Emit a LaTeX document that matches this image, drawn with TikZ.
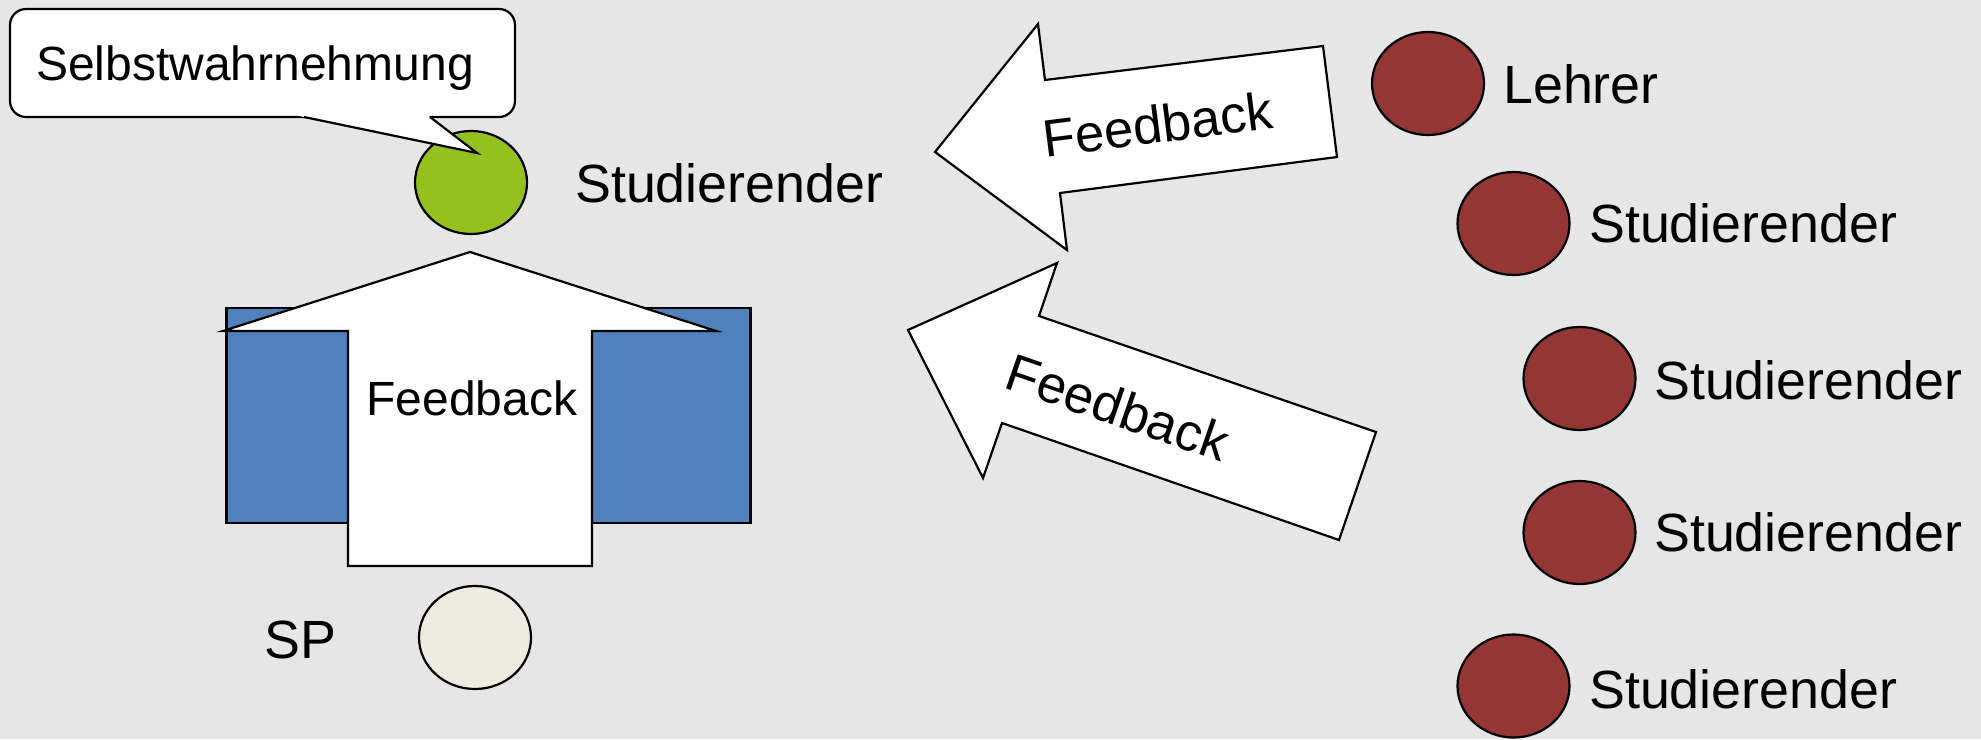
\documentclass[tikz,border=0pt]{standalone}
\usepackage{fontspec}
\setmainfont{Liberation Sans}
\usetikzlibrary{shapes.geometric}

\definecolor{bggrey}{RGB}{230,230,230}
\definecolor{studgreen}{RGB}{149,193,31}
\definecolor{peerred}{RGB}{148,54,52}
\definecolor{tableblue}{RGB}{79,129,189}
\definecolor{spbeige}{RGB}{238,236,225}

\tikzset{
  outline/.style={draw=black, line width=2.2pt, line join=miter},
  person/.style={ellipse, outline, minimum width=112pt, minimum height=103pt, inner sep=0pt},
  biglabel/.style={inner sep=0pt, anchor=base west, font=\fontsize{53.8}{62}\selectfont},
  arrowtext/.style={inner sep=0pt, font=\fontsize{48}{55}\selectfont},
  slanttext/.style={inner sep=0pt, font=\fontsize{52.5}{60}\selectfont},
  bigarrow/.style={outline, fill=white}
}

\begin{document}
\begin{tikzpicture}[x=1pt, y=-1pt]
  % canvas
  \fill[bggrey] (0,0) rectangle (1981,739);
  \useasboundingbox (0,0) rectangle (1981,739);

  % table seen from above
  \node[outline, fill=tableblue, minimum width=524pt, minimum height=215pt, inner sep=0pt]
    (table) at (488.5,415.5) {};

  % self-perception: student, speech bubble
  \node[person, fill=studgreen] (student) at (471,182.5) {};
  \node[biglabel] (studentlabel) at (575,202) {Studierender};

  \node[outline, fill=white, rounded corners=16pt, minimum width=505pt, minimum height=108pt, inner sep=0pt]
    (bubble) at (262.5,63) {};
  \fill[white] (284.8,113) -- (477,153) -- (424.8,113) -- cycle;
  \draw[outline] (304,117) -- (477,153) -- (430,117);
  \node[arrowtext, anchor=base west] (bubbletext) at (36,80) {Selbstwahrnehmung};

  % feedback from the simulated patient, upward block arrow over the table
  \draw[bigarrow] (470,252) -- (716,331) -- (592,331) -- (592,566)
        -- (348,566) -- (348,331) -- (223,331) -- cycle;
  \node[arrowtext, anchor=base] (fbup) at (472,415) {Feedback};

  % simulated patient
  \node[person, fill=spbeige] (sp) at (475,637.5) {};
  \node[biglabel] (splabel) at (264,658) {SP};

  % feedback from the group, two block arrows pointing left
  \draw[bigarrow] (935,152) -- (1038,24) -- (1045,80) -- (1323,46)
        -- (1337,157) -- (1060,193) -- (1067,250) -- cycle;
  \node[slanttext, rotate=7.2] (fbtop) at (1158,124) {Feedback};

  \draw[bigarrow] (908,330) -- (1057,263) -- (1039,316) -- (1376,432)
        -- (1339,540) -- (1002,423) -- (983,478) -- cycle;
  \node[slanttext, rotate=-19] (fbbottom) at (1118,407) {Feedback};

  % teacher and fellow students
  \node[person, fill=peerred] (teacher) at (1428,83.5) {};
  \node[biglabel] (teacherlabel) at (1503,103) {Lehrer};

  \node[person, fill=peerred] (peerA) at (1513.5,223.5) {};
  \node[biglabel] (peerAlabel) at (1589,242) {Studierender};

  \node[person, fill=peerred] (peerB) at (1579.5,378.5) {};
  \node[biglabel] (peerBlabel) at (1654,399) {Studierender};

  \node[person, fill=peerred] (peerC) at (1579.5,532.5) {};
  \node[biglabel] (peerClabel) at (1654,551) {Studierender};

  \node[person, fill=peerred] (peerD) at (1513.5,686) {};
  \node[biglabel] (peerDlabel) at (1589,708) {Studierender};
\end{tikzpicture}
\end{document}
